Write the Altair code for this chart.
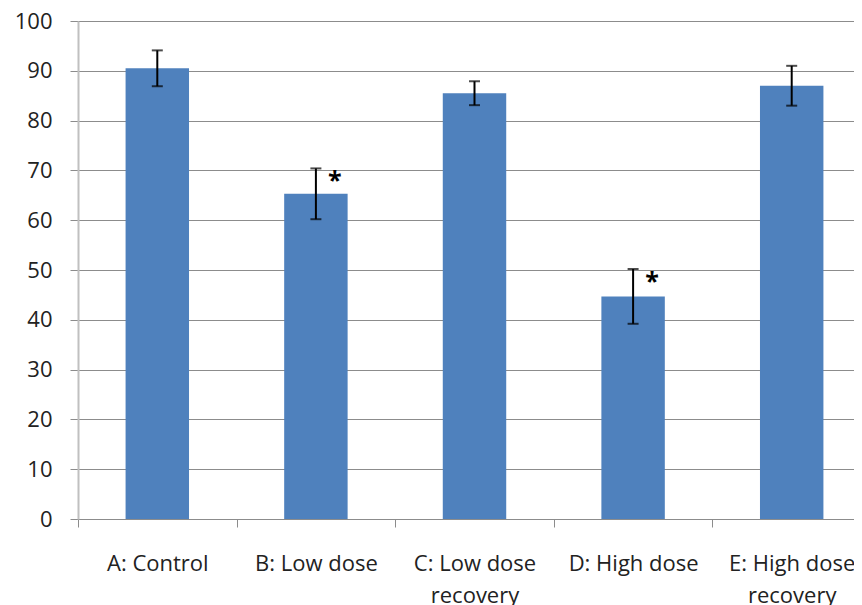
import altair as alt
import pandas as pd

groups = ["A: Control", "B: Low dose", "C: Low dose|recovery", "D: High dose", "E: High dose|recovery"]
means = [90.5, 65.3, 85.5, 44.7, 87.0]
errors = [3.6, 5.1, 2.4, 5.5, 4.0]
marks = ["", "*", "", "*", ""]

df = pd.DataFrame({"group": groups, "mean": means, "err": errors, "mark": marks})
df["lo"] = df["mean"] - df["err"]
df["hi"] = df["mean"] + df["err"]

FONT = "Open Sans"
xscale = alt.Scale(paddingInner=0, paddingOuter=0, range=[0, 793])
x = alt.X("group:N", sort=groups, title=None, scale=xscale,
          axis=alt.Axis(labelExpr="split(datum.label, '|')", labelAngle=0,
                        labelFontSize=22, labelFont=FONT, labelColor="#222222",
                        labelPadding=36, labelLineHeight=32, labelBaseline="middle",
                        tickBand="extent", tickSize=8, tickColor="#8c8c8c",
                        domainColor="#8c8c8c", grid=False, labelOverlap=False,
                        labelBound=False))
xs = alt.X("group:N", sort=groups, scale=xscale)

base = alt.Chart(df)

bars = base.mark_bar(color="#4F81BD", width=alt.RelativeBandSize(0.4)).encode(
    x=x,
    y=alt.Y("mean:Q", title=None,
            scale=alt.Scale(domain=[0, 100]),
            axis=alt.Axis(values=list(range(0, 101, 10)), labelFontSize=22, labelFont=FONT,
                          labelColor="#222222", labelPadding=18, tickSize=8,
                          tickColor="#8c8c8c", gridColor="#8c8c8c", gridWidth=1,
                          domainColor="#c0c0c0", domainWidth=2)),
)

rules = base.mark_rule(color="black", strokeWidth=2).encode(x=xs, y="lo:Q", y2="hi:Q")
caps_hi = base.mark_tick(color="black", size=11, thickness=2).encode(x=xs, y="hi:Q")
caps_lo = base.mark_tick(color="black", size=11, thickness=2).encode(x=xs, y="lo:Q")
stars = base.mark_text(fontSize=25, fontWeight="bold", font=FONT, dx=19, dy=13,
                       color="black").encode(x=xs, y="hi:Q", text="mark:N")

chart = (bars + rules + caps_hi + caps_lo + stars).properties(
    width=776, height=498,
    padding={"left": 70, "top": 13, "right": 0, "bottom": 86},
    autosize="none",
).configure_view(stroke=None).configure(background="white")

chart.save("out.html", embed_options={"renderer": "svg", "actions": False})
